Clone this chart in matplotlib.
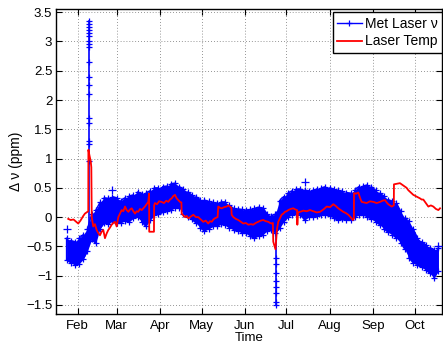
import numpy as np
import matplotlib
matplotlib.use('Agg')
import matplotlib.pyplot as plt
import matplotlib.dates as mdates
from matplotlib.ticker import FuncFormatter, FixedLocator
from datetime import datetime

plt.rcParams['font.family'] = ['Liberation Sans', 'DejaVu Sans']

# ---- data (days after 1 Jan) ----
blue_days = [23, 26, 29, 32, 35, 38, 41, 44, 47, 50,
             53, 56, 59, 62, 65, 68, 71, 74, 77, 80,
             83, 86, 89, 92, 95, 98, 101, 104, 107, 110,
             113, 116, 119, 122, 125, 128, 131, 134, 137, 140,
             143, 146, 149, 152, 155, 158, 161, 164, 167, 170,
             173, 176, 179, 182, 185, 188, 191, 194, 197, 200,
             203, 206, 209, 212, 215, 218, 221, 224, 227, 230,
             233, 236, 239, 242, 245, 248, 251, 254, 257, 260,
             263, 266, 269, 272, 275, 278, 281, 284, 287, 290]
blue_hi = [-0.36, -0.40, -0.42, -0.36, -0.30, -0.20, 0.05, 0.12, 0.25, 0.33,
           0.32, 0.35, 0.33, 0.28, 0.33, 0.36, 0.38, 0.43, 0.40, 0.41,
           0.45, 0.50, 0.50, 0.52, 0.53, 0.57, 0.58, 0.52, 0.48, 0.43,
           0.38, 0.35, 0.30, 0.29, 0.27, 0.25, 0.24, 0.26, 0.26, 0.20,
           0.15, 0.14, 0.13, 0.12, 0.13, 0.15, 0.17, 0.16, 0.06, 0.02,
           0.05, 0.28, 0.35, 0.41, 0.45, 0.48, 0.48, 0.46, 0.45, 0.46,
           0.48, 0.50, 0.52, 0.50, 0.48, 0.46, 0.44, 0.42, 0.41, 0.46,
           0.52, 0.53, 0.55, 0.52, 0.46, 0.41, 0.36, 0.30, 0.27, 0.24,
           0.10, -0.02, -0.07, -0.20, -0.35, -0.42, -0.47, -0.52, -0.56, -0.53]
blue_lo = [-0.73, -0.78, -0.82, -0.80, -0.72, -0.58, -0.38, -0.45, -0.20, -0.10,
           -0.12, -0.06, -0.10, -0.10, -0.06, -0.08, -0.02, 0.00, -0.08, -0.16,
           -0.05, 0.03, 0.05, 0.08, 0.10, 0.12, 0.16, 0.15, 0.06, 0.00,
           -0.04, -0.10, -0.18, -0.24, -0.20, -0.16, -0.15, -0.12, -0.13, -0.18,
           -0.22, -0.24, -0.27, -0.28, -0.33, -0.36, -0.32, -0.30, -0.24, -0.22,
           -0.28, -0.19, -0.08, 0.00, 0.04, 0.06, 0.04, -0.05, 0.00, 0.00,
           0.02, 0.03, 0.04, 0.02, -0.02, -0.05, -0.04, -0.05, -0.05, 0.00,
           0.04, 0.03, 0.00, -0.03, -0.08, -0.13, -0.20, -0.26, -0.30, -0.36,
           -0.44, -0.55, -0.70, -0.78, -0.82, -0.86, -0.90, -0.96, -1.04, -0.92]

spike1_day = 39.3
spike1_vals = [-0.40, 0.95, 1.25, 1.30, 1.60, 1.70, 2.10, 2.25, 2.40, 2.65,
               2.90, 2.95, 3.00, 3.10, 3.15, 3.20, 3.25, 3.30, 3.35]
spike2_day = 173.4
spike2_vals = [0.05, -0.20, -0.70, -0.80, -0.95, -1.10, -1.20, -1.30, -1.45, -1.50]

outlier_days = [23.1, 56.0, 194.3, 289.7]
outlier_vals = [-0.20, 0.46, 0.60, -0.50]

red_days = [24.2, 26, 28, 30, 31.4, 33, 35, 36.2, 37.9, 38.6,
            38.7, 39.5, 40.4, 40.8, 41.1, 42.2, 43.4, 44.6, 46, 47,
            48.2, 49.4, 50.6, 51.8, 53, 54.2, 55.4, 56.6, 57.8, 59,
            60.2, 61.4, 62.6, 63.8, 65, 66.2, 67.4, 68.6, 69.8, 71,
            72.2, 73.4, 74.5, 75.8, 77, 78.2, 79.3, 80.5, 81.7, 82.3,
            82.4, 85.8, 85.9, 86.5, 88, 89.5, 91.3, 93, 94.6, 96.1,
            97.3, 98.5, 99.7, 100.9, 102.1, 103.3, 104.5, 105.5, 105.7, 106.9,
            108.1, 109.3, 110.5, 112.3, 114.1, 115.9, 117.6, 119.4, 121.2, 123,
            124.8, 126, 127.3, 128.5, 129.6, 131.5, 132, 133.2, 134.4, 136.2,
            138, 139.2, 141.4, 141.6, 142.8, 144.6, 146.4, 148.2, 150, 151.8,
            153.6, 155.4, 157.1, 158.9, 160.7, 162.5, 164.3, 166.1, 167.9, 169.2,
            170.4, 171.2, 171.5, 173.1, 174.2, 175.1, 176.3, 177.5, 178.7, 179.9,
            181.1, 182.3, 184.1, 185.9, 187.4, 188.6, 188.8, 189.2, 190.7, 193.1,
            195.5, 197.9, 200.3, 202.7, 205.1, 207.5, 209.9, 212.3, 214.6, 216.4,
            218.2, 220, 221.8, 223.6, 225.4, 227, 228.6, 229.4, 229.5, 231,
            232.6, 233.8, 235, 236.8, 238.6, 241, 243.4, 245.8, 248.2, 250,
            251.8, 253, 254.1, 255.4, 256.6, 258.1, 258.2, 260.3, 262.5, 264.3,
            266.1, 267.3, 268.5, 270.3, 272.1, 274.5, 276.9, 278.1, 279.3, 281.1,
            282.9, 284.7, 286.5, 288.3, 290.1, 291.3]
red_vals = [-0.03, -0.05, -0.04, -0.08, -0.11, -0.06, 0.02, 0.06, 0.09, 0.10,
            1.15, 1.05, 0.95, 0.85, 0.00, -0.16, -0.12, -0.22, -0.28, -0.31,
            -0.25, -0.22, -0.36, -0.28, -0.22, -0.18, -0.13, -0.10, -0.08, -0.16,
            0.00, 0.06, 0.12, 0.10, 0.18, 0.12, 0.09, 0.13, 0.15, 0.10,
            0.06, 0.10, 0.09, 0.14, 0.12, 0.15, 0.18, 0.22, 0.26, 0.40,
            -0.25, -0.25, 0.20, 0.24, 0.22, 0.27, 0.26, 0.24, 0.28, 0.26,
            0.30, 0.32, 0.36, 0.38, 0.32, 0.29, 0.26, 0.25, 0.06, 0.03,
            0.00, 0.02, -0.02, 0.01, 0.04, 0.00, 0.00, -0.04, -0.08, -0.06,
            -0.11, -0.07, -0.08, -0.04, -0.02, 0.00, 0.18, 0.16, 0.15, 0.17,
            0.18, 0.20, 0.16, 0.04, 0.00, -0.03, -0.05, -0.08, -0.11, -0.10,
            -0.13, -0.12, -0.13, -0.10, -0.08, -0.06, -0.05, -0.07, -0.08, -0.10,
            -0.11, -0.10, -0.42, -0.55, -0.20, -0.08, -0.02, 0.04, 0.06, 0.09,
            0.10, 0.12, 0.14, 0.15, 0.13, 0.12, -0.13, 0.08, 0.09, 0.11,
            0.10, 0.12, 0.10, 0.08, 0.09, 0.13, 0.18, 0.17, 0.22, 0.19,
            0.15, 0.12, 0.09, 0.07, 0.04, 0.00, -0.05, -0.03, 0.41, 0.40,
            0.42, 0.33, 0.26, 0.25, 0.24, 0.27, 0.26, 0.24, 0.26, 0.28,
            0.29, 0.25, 0.22, 0.20, 0.18, 0.20, 0.56, 0.57, 0.58, 0.55,
            0.52, 0.50, 0.46, 0.42, 0.38, 0.35, 0.32, 0.30, 0.30, 0.24,
            0.18, 0.20, 0.18, 0.14, 0.12, 0.15]

month_labels = ['Feb', 'Mar', 'Apr', 'May', 'Jun', 'Jul', 'Aug', 'Sep', 'Oct']
y_ticks = [-1.5, -1, -0.5, 0, 0.5, 1, 1.5, 2, 2.5, 3, 3.5]

# ---- conversions ----
base = mdates.date2num(datetime(2011, 1, 1))
bd = base + np.array(blue_days, dtype=float)
bhi = np.array(blue_hi)
blo = np.array(blue_lo)
n = len(blue_days)
zx = np.repeat(bd, 2)
zy = np.empty(2 * n)
for k in range(n):
    if k % 2 == 0:
        zy[2 * k], zy[2 * k + 1] = bhi[k], blo[k]
    else:
        zy[2 * k], zy[2 * k + 1] = blo[k], bhi[k]

blue = (0, 0, 1)
red = (1, 0, 0)

fig = plt.figure(figsize=(4.43, 3.45), dpi=100)
ax = fig.add_axes([0.1257, 0.0899, 0.872, 0.884])

ax.fill_between(bd, blo, bhi, color=blue, lw=0, zorder=2)
ln_blue, = ax.plot(zx, zy, color=blue, lw=1.0, marker='+', ms=5, mew=0.9,
                   zorder=3, label='Met Laser \u03bd')
ax.plot(np.full(len(spike1_vals), base + spike1_day), spike1_vals, color=blue,
        lw=1.2, marker='+', ms=5, mew=0.9, zorder=3)
ax.plot(np.full(len(spike2_vals), base + spike2_day), spike2_vals, color=blue,
        lw=1.2, marker='+', ms=5, mew=0.9, zorder=3)
ax.plot(base + np.array(outlier_days), outlier_vals, ls='none', color=blue,
        marker='+', ms=5.5, mew=0.9, zorder=3)
ln_red, = ax.plot(base + np.array(red_days), red_vals, color=red, lw=1.3,
                  zorder=4, label='Laser Temp')

# ---- axes ----
ax.set_xlim(base + 15.2, base + 292.7)
ax.set_ylim(-1.655, 3.555)
month_pos = [mdates.date2num(datetime(2011, m, 1)) for m in range(2, 11)]
ax.xaxis.set_major_locator(FixedLocator(month_pos))
ax.set_xticklabels(month_labels)
ax.yaxis.set_major_locator(FixedLocator(y_ticks))
ax.yaxis.set_major_formatter(FuncFormatter(
    lambda v, p: ('%g' % v).replace('-', '\u2212')))

ax.grid(True, color='0.45', linestyle=(0, (1, 2.5)), linewidth=0.6)
ax.set_axisbelow(True)
for s in ax.spines.values():
    s.set_linewidth(1.0)
    s.set_color('black')
ax.tick_params(direction='in', top=True, right=True, length=4, width=0.8,
               labelsize=9.5, colors='black')
ax.tick_params(axis='y', pad=2.5)
ax.tick_params(axis='x', pad=4.5)

ax.set_xlabel('Time', fontsize=9.5, labelpad=-0.5)
ax.set_ylabel('\u0394 \u03bd (ppm)', fontsize=10, labelpad=2)

leg = ax.legend(handles=[ln_blue, ln_red], loc='upper right', fontsize=10,
                bbox_to_anchor=(441.5 / 443, (345 - 12.5) / 345),
                bbox_transform=fig.transFigure,
                fancybox=False, framealpha=1, edgecolor='black',
                borderaxespad=0, handlelength=1.8, handletextpad=0.2,
                borderpad=0.3, labelspacing=0.27, numpoints=1)
leg.get_frame().set_linewidth(1.0)

fig.savefig('out.png', dpi=100)
